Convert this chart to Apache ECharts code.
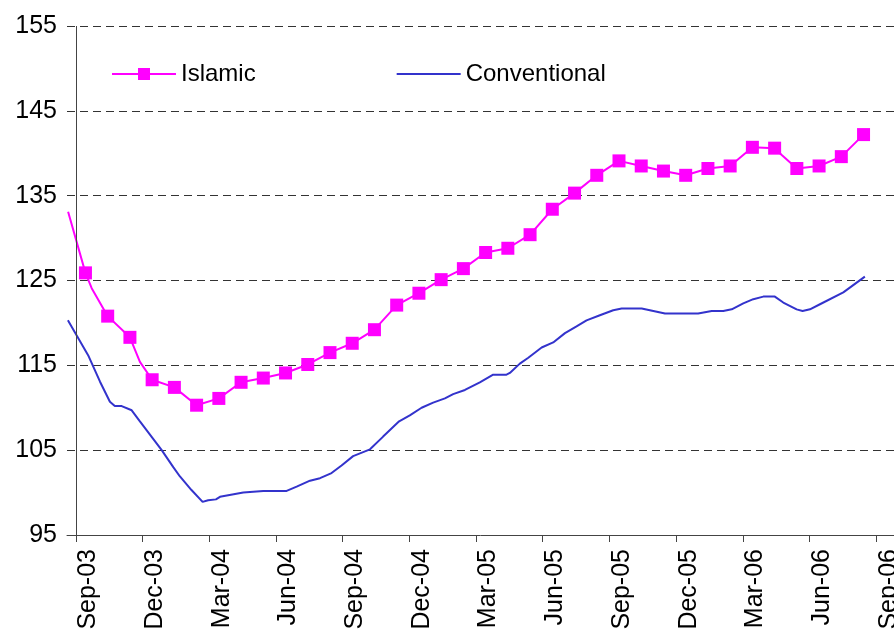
<!DOCTYPE html>
<html>
<head>
<meta charset="utf-8">
<script src="https://cdn.jsdelivr.net/npm/echarts@6/dist/echarts.min.js"></script>
<style>
  html, body { margin: 0; padding: 0; background: #fff; }
  #main { width: 894px; height: 636px; }
</style>
</head>
<body>
<div id="main"></div>
<script>
// x positions are months after 1 Sep 2003
const tickLabels = ['Sep-03', 'Dec-03', 'Mar-04', 'Jun-04', 'Sep-04', 'Dec-04', 'Mar-05',
  'Jun-05', 'Sep-05', 'Dec-05', 'Mar-06', 'Jun-06', 'Sep-06']
const tickMonths = [0, 3, 6, 9, 12, 15, 18, 21, 24, 27, 30, 33, 36]

// Islamic index, one marked reading per month
const islamicStart = 0.43
const islamic = [125.9, 120.8, 118.3, 113.3, 112.4, 110.3, 111.1, 113.0, 113.5, 114.1,
  115.1, 116.5, 117.6, 119.2, 122.1, 123.5, 125.1, 126.4, 128.3, 128.8,
  130.4, 133.4, 135.3, 137.4, 139.1, 138.5, 137.9, 137.4, 138.2, 138.5,
  140.7, 140.6, 138.2, 138.5, 139.6, 142.2]
// readings in between that carry no marker
const islamicBetween = [[-0.35, 133.1], [0.71, 124.1], [2.88, 115.4], [31.75, 139.8]]

// Conventional index
const convMonths = [-0.36, 0.55, 1.08, 1.53, 1.75, 2.06, 2.51, 2.88, 3.86, 4.38,
  4.68, 5.20, 5.70, 5.95, 6.30, 6.48, 7.53, 8.43, 9.48, 9.93,
  10.53, 10.98, 11.50, 11.95, 12.47, 13.23, 13.82, 14.54, 15.02, 15.55,
  16.07, 16.60, 16.97, 17.50, 18.17, 18.77, 19.37, 19.52, 19.97, 20.35,
  20.95, 21.47, 22.00, 22.52, 22.97, 23.57, 24.17, 24.55, 25.45, 26.50,
  27.99, 28.60, 29.12, 29.50, 30.02, 30.47, 30.92, 31.44, 31.82, 32.42,
  32.69, 33.02, 33.47, 34.52, 35.49]
const convValues = [120.3, 116.2, 113.1, 110.7, 110.2, 110.2, 109.7, 108.4, 105.0, 103.0,
  101.9, 100.3, 98.9, 99.1, 99.2, 99.5, 100.0, 100.2, 100.2, 100.7,
  101.4, 101.7, 102.3, 103.2, 104.3, 105.1, 106.6, 108.4, 109.1, 110.0,
  110.6, 111.1, 111.6, 112.1, 113.0, 113.9, 113.9, 114.1, 115.2, 115.9,
  117.1, 117.7, 118.8, 119.6, 120.3, 120.9, 121.5, 121.7, 121.7, 121.1,
  121.1, 121.4, 121.4, 121.6, 122.3, 122.8, 123.1, 123.1, 122.4, 121.6,
  121.4, 121.6, 122.2, 123.6, 125.45]

var islamicData = islamic.map((v, i) => ({ value: [islamicStart + i, v] }))
islamicBetween.forEach(p => islamicData.push({ value: p, symbol: 'none' }))
islamicData.sort((a, b) => a.value[0] - b.value[0])

var convData = convMonths.map((m, i) => [m, convValues[i]])

var chart = echarts.init(document.getElementById('main'))
var font = 'Liberation Sans, Arial, sans-serif'

var option = {
  animation: false,
  textStyle: { fontFamily: font },
  // plot starts a little before Sep-03; the vertical axis line is drawn at month 0
  grid: { left: 67, right: 0, top: 26, bottom: 101, outerBoundsMode: 'none', containLabel: false },
  legend: {
    left: 111,
    top: 62,
    padding: 0,
    itemWidth: 64,
    itemHeight: 15,
    itemGap: 141,
    textStyle: { fontSize: 24, color: '#000', fontFamily: font },
    data: [
      { name: 'Islamic' },
      { name: 'Conventional', icon: 'path://M0 0H100V3H0Z' }
    ]
  },
  xAxis: {
    type: 'value',
    min: -0.4,
    max: 36.8,
    axisLine: { onZero: false, lineStyle: { color: '#444', width: 1 } },
    axisTick: { length: 7, customValues: tickMonths, lineStyle: { color: '#444' } },
    splitLine: { show: false },
    axisLabel: {
      customValues: tickMonths,
      rotate: 90,
      verticalAlign: 'top',
      margin: 14,
      fontSize: 25,
      color: '#000',
      formatter: v => tickLabels[Math.round(v / 3)]
    }
  },
  yAxis: {
    type: 'value',
    min: 95,
    max: 155,
    interval: 10,
    axisLine: { show: false, onZero: false },
    axisTick: { show: false },
    axisLabel: { fontSize: 25, color: '#000', margin: 10 },
    splitLine: { lineStyle: { color: '#333', type: [8, 5], width: 1 } }
  },
  series: [
    {
      name: 'Islamic',
      type: 'line',
      data: islamicData,
      symbol: 'rect',
      symbolSize: 13,
      lineStyle: { color: '#ff00ff', width: 2 },
      itemStyle: { color: '#ff00ff' },
      z: 3
    },
    {
      name: 'Conventional',
      type: 'line',
      data: convData,
      symbol: 'none',
      lineStyle: { color: '#3333cc', width: 2 },
      itemStyle: { color: '#3333cc' },
      markLine: {
        silent: true,
        symbol: 'none',
        label: { show: false },
        lineStyle: { color: '#444', type: 'solid', width: 1 },
        data: [{ xAxis: 0 }]
      },
      z: 2
    }
  ]
}

chart.setOption(option)
</script>
</body>
</html>
